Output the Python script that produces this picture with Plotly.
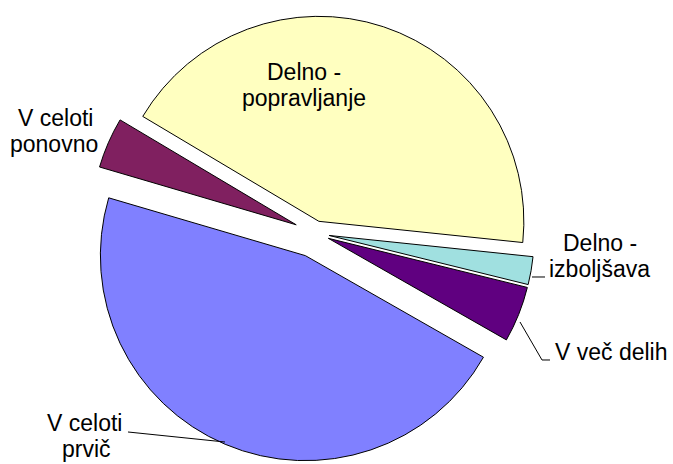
import plotly.graph_objects as go

# Data (clockwise order, starting with the large blue slice)
labels = ["V celoti prvič", "V celoti ponovno", "Delno - popravljanje",
          "Delno - izboljšava", "V več delih"]
values = [46.3, 4.0, 43.1, 2.2, 4.4]
colors = ["#8080FF", "#802060", "#FFFFC0", "#A0E0E0", "#600080"]
pulls = [0.12, 0.10, 0.06, 0.07, 0.07]

W, H = 673, 464
FONT = "Liberation Sans, Arial, sans-serif"


def px(x, y):
    return x / W, 1 - y / H


# pie geometry: centre (315, 233) px, radius 205 px
cx, cy, r = 315, 233, 205
half = r * (1 + max(pulls))
dom_x = [(cx - half) / W, (cx + half) / W]
dom_y = [max(0, 1 - (cy + half) / H), min(1, 1 - (cy - half) / H)]

fig = go.Figure(go.Pie(
    labels=labels, values=values, sort=False, direction="clockwise",
    rotation=119.7, pull=pulls, textinfo="none", hoverinfo="label+percent",
    marker=dict(colors=colors, line=dict(color="#000000", width=1)),
    domain=dict(x=dom_x, y=dom_y), showlegend=False,
))

# label lines (text, x_px, y_px)
label_lines = [
    ("Delno -", 304, 72), ("popravljanje", 304, 98.5),
    ("V celoti", 55, 117.5), ("ponovno", 54, 144),
    ("Delno -", 600, 242.5), ("izboljšava", 599, 269),
    ("V več delih", 611, 352),
    ("V celoti", 84, 422.5), ("prvič", 86, 449),
]
annotations = []
for t, x, y in label_lines:
    ax_, ay_ = px(x, y)
    annotations.append(dict(text=t, x=ax_, y=ay_, xref="paper", yref="paper",
                            xanchor="center", yanchor="middle", showarrow=False,
                            borderpad=0,
                            font=dict(family=FONT, size=23, color="#000000")))

# leader lines (pixel points)
leaders = [
    [(532, 277), (545, 277)],
    [(520, 322), (542, 360), (550, 360)],
    [(128, 432), (225, 442)],
]
shapes = []
for pts in leaders:
    path = ""
    for i, (x, y) in enumerate(pts):
        X, Y = px(x, y)
        path += ("M" if i == 0 else "L") + f"{X:.5f},{Y:.5f} "
    shapes.append(dict(type="path", path=path.strip(), xref="paper", yref="paper",
                       line=dict(color="#000000", width=1)))

fig.update_layout(
    width=W, height=H, margin=dict(l=0, r=0, t=0, b=0),
    paper_bgcolor="#FFFFFF", plot_bgcolor="#FFFFFF",
    annotations=annotations, shapes=shapes,
)

fig.write_html("out.html", config={"displayModeBar": False},
               post_script="document.body.style.margin='0';document.body.style.overflow='hidden';")
